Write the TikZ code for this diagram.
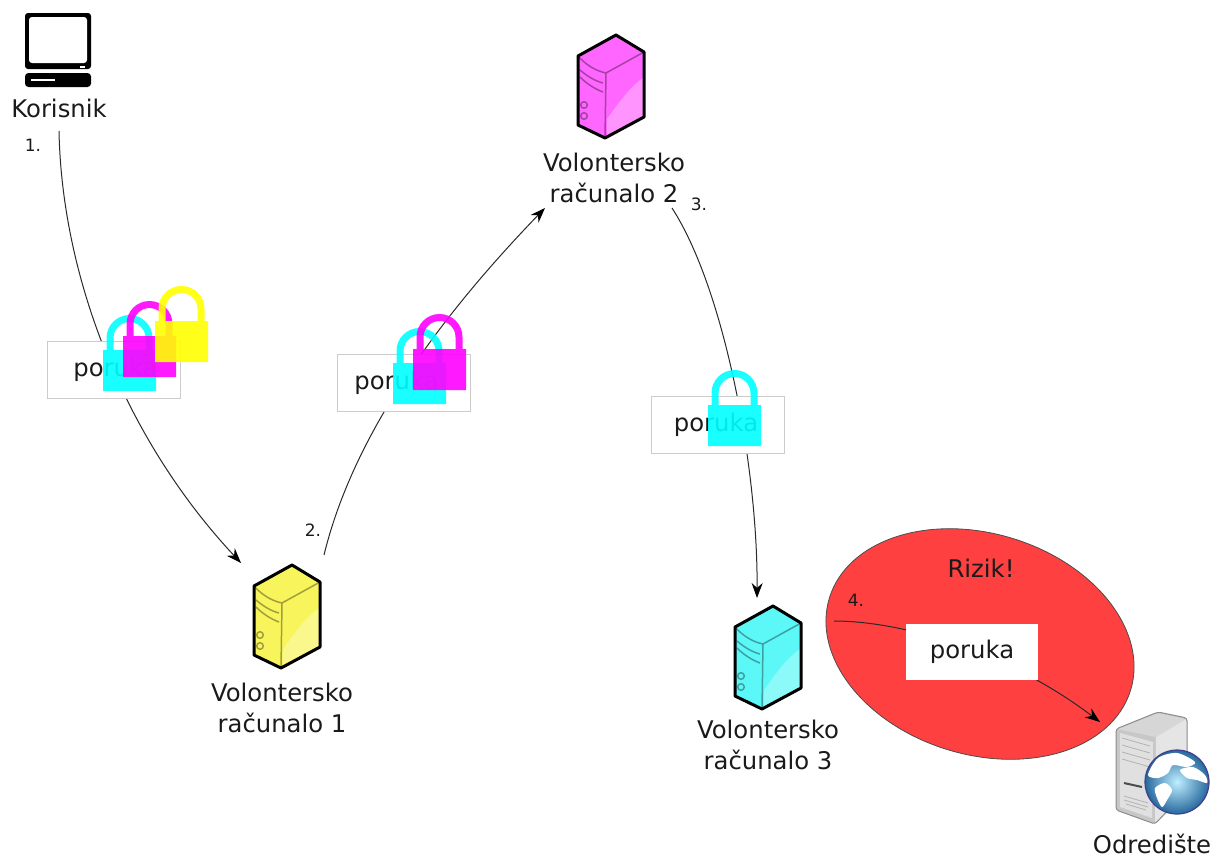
\documentclass[tikz,border=0pt]{standalone}
\usepackage{fontspec}
\setmainfont{DejaVu Sans}
\usetikzlibrary{arrows.meta}
\definecolor{txt}{HTML}{1A1A1A}
\definecolor{wire}{HTML}{2A2A2A}
\definecolor{risk}{HTML}{FF4040}
\definecolor{sy}{HTML}{F8F45C}\definecolor{sm}{HTML}{FF66FF}\definecolor{sc}{HTML}{5CF8F8}
\definecolor{ly}{HTML}{FFFF00}\definecolor{lm}{HTML}{FF00FF}\definecolor{lc}{HTML}{00FFFF}
\tikzset{
  lab/.style={font=\fontsize{24.3}{31}\selectfont,text=txt,align=center,inner sep=0pt},
  num/.style={font=\fontsize{17}{20}\selectfont,text=txt,inner sep=0pt},
  msgbox/.style={draw=black!20,line width=1pt,fill=white,minimum width=133pt,minimum height=57pt,inner sep=0pt,font=\fontsize{24.3}{30}\selectfont,text=txt},
  wirelink/.style={draw=wire,line width=1pt},
  arrowlink/.style={wirelink,-{Stealth[length=15pt,width=11pt,black]}},
  anchorbox/.style={minimum width=66pt,minimum height=103pt,inner sep=0pt,outer sep=0pt}
}
\newcommand{\serverbox}[4]{% name, x, y, colour
  \node[anchorbox,anchor=north west] (#1) at (#2,#3) {};
  \begin{scope}[shift={(#2,#3)}]
    \fill[#4] (38,0)--(66,17)--(66,82)--(27,103)--(0,90)--(0,21)--cycle;
    \fill[#4!70!white] (29,84) .. controls (42,66) and (52,52) .. (65,43) -- (65,82) -- (29,101) -- cycle;
    \draw[#4!65!black,line width=1.5pt] (0,21) .. controls (8,30) and (18,36) .. (28,38) -- (66,17);
    \draw[#4!65!black,line width=1.5pt] (28,38) -- (27,103);
    \draw[#4!65!black,line width=1.5pt] (2,35) .. controls (9,41) and (17,46) .. (25,48);
    \draw[#4!65!black,line width=1.5pt] (2,42) .. controls (9,49) and (17,54) .. (25,57);
    \draw[#4!65!black,line width=1.5pt] (6,70) circle (3.3) (6,81) circle (3.3);
    \draw[black,line width=3pt,line join=round] (38,0)--(66,17)--(66,82)--(27,103)--(0,90)--(0,21)--cycle;
  \end{scope}}
\newcommand{\lockicon}[3]{% x, y of body top-left, colour
  \begin{scope}[shift={(#1,#2)},opacity=.9,transparency group]
    \draw[#3,line width=7pt] (7,14) -- (7,-12) arc[start angle=180,end angle=360,radius=19.5] -- (46,14);
    \fill[#3] (0,0) rectangle (53,41);
  \end{scope}}
\begin{document}
\begin{tikzpicture}[x=1pt,y=-1pt]
\useasboundingbox (0,0) rectangle (1214,857);
% risk ellipse
\draw[fill=risk,draw=black!70,line width=.8pt,rotate around={-17:(980,644)}] (980,644) ellipse [x radius=157.5,y radius=110.5];
% labels
\node[lab] (korisnik) at (59,108) {Korisnik};
\node[lab] (v1) at (282,708) {Volontersko\\računalo 1};
\node[lab] (v2) at (614,178) {Volontersko\\računalo 2};
\node[lab] (v3) at (768,745) {Volontersko\\računalo 3};
\node[lab] (odr) at (1152,844) {Odredište};
\node[lab] (rizik) at (981,568) {Rizik!};
\node[num] (n1) at (33,145) {1.};
\node[num] (n2) at (313,530) {2.};
\node[num] (n3) at (699,204) {3.};
\node[num] (n4) at (856,600) {4.};
% terminal
\node[anchorbox,minimum height=74pt,anchor=north west] (term) at (25,13) {};
\fill[black,rounded corners=3pt] (25,13) rectangle (91,69);
\fill[white,rounded corners=3pt] (29,17) rectangle (87,63);
\fill[white] (80,65.5) rectangle (85,68);
\fill[black,rounded corners=3.5pt] (25,73) rectangle (91,87);
\fill[white] (31,79) rectangle (55,81);
% servers
\serverbox{s1}{254}{565}{sy}
\serverbox{s2}{578}{35}{sm}
\serverbox{s3}{735}{606}{sc}
% destination server
\node[anchorbox,minimum width=71pt,minimum height=112pt,anchor=north west] (dest) at (1116,712) {};
\fill[black!22,rounded corners=3pt] (1116,729)--(1158,712)--(1187,718)--(1187,790)--(1155,824)--(1116,810)--cycle;
\fill[black!10] (1156,737)--(1187,718)--(1187,795)--(1155,824)--cycle;
\fill[black!16] (1117,729)--(1158,713)--(1186,719)--(1156,737)--cycle;
\fill[black!12] (1120,733)--(1153,742)--(1152,818)--(1120,807)--cycle;
\draw[black!30,line width=.8pt] (1122,738)--(1150,746) (1122,745)--(1150,753) (1122,752)--(1150,760) (1122,759)--(1150,767) (1124,796)--(1148,803) (1124,800)--(1148,807) (1126,804)--(1146,810);
\draw[black!70,line width=2pt] (1124,783)--(1142,787);
\draw[black!45,line width=1pt,line join=round,rounded corners=3pt] (1116,729)--(1158,712)--(1187,718)--(1187,790)--(1155,824)--(1116,810)--cycle;
% globe
\shade[inner color=blue!25!cyan!25!white,outer color=blue!45!cyan!55!black!85] (1177,782) circle (32);
\fill[white] plot[smooth cycle] coordinates {(1148,775) (1158,758) (1177,753) (1195,762) (1187,767) (1173,765) (1168,773) (1158,778)};
\fill[white] plot[smooth cycle] coordinates {(1180,770) (1193,767) (1205,775) (1207,783) (1197,780) (1187,778)};
\fill[white] plot[smooth cycle] coordinates {(1155,788) (1165,783) (1172,790) (1167,800) (1162,807) (1157,798)};
\draw[blue!40!black!75,line width=1.2pt] (1177,782) circle (32);
% connectors
\coordinate (e1) at (241,563);
\coordinate (b2) at (324,555);
\coordinate (e2) at (545,208);
\coordinate (b3) at (672,208);
\coordinate (e3) at (757,598);
\coordinate (b4) at (834,621);
\coordinate (e4) at (1100,722);
\coordinate (b1) at (59,131);
\draw[arrowlink] (b1) .. controls (62,280) and (126,440) .. (e1);
\draw[arrowlink] (b2) .. controls (352,440) and (432,325) .. (e2);
\draw[arrowlink] (b3) .. controls (725,290) and (758,470) .. (e3);
\draw[arrowlink] (b4) .. controls (900,621) and (1005,650) .. (e4);
% messages
\node[msgbox] (m1) at (113.5,369.5) {\hspace*{4pt}poruka};
\node[msgbox] (m2) at (403.5,383) {\hspace*{-14pt}poruka\hspace*{0pt}};
\node[msgbox] (m3) at (717.5,424.5) {\hspace*{-3pt}poruka};
\node[msgbox,draw=none,minimum width=132pt,minimum height=56pt] (m4) at (972,652) {poruka};
% locks
\lockicon{103}{350}{lc}
\lockicon{123}{336}{lm}
\lockicon{155}{321}{ly}
\lockicon{393}{363}{lc}
\lockicon{413}{349}{lm}
\lockicon{708}{405}{lc}
\end{tikzpicture}
\end{document}
